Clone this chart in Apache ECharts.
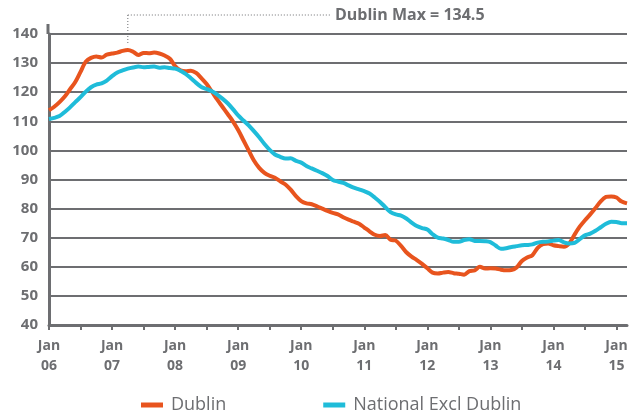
<!DOCTYPE html>
<html><head><meta charset="utf-8">
<script src="https://cdn.jsdelivr.net/npm/echarts@6/dist/echarts.min.js"></script>
<style>html,body{margin:0;padding:0;background:#fff}#c{width:642px;height:417px}</style>
</head><body><div id="c"></div>
<script>
const years = ['06','07','08','09','10','11','12','13','14','15'];
const monthNames = ['Jan','Feb','Mar','Apr','May','Jun','Jul','Aug','Sep','Oct','Nov','Dec'];
const seriesNames = ['Dublin', 'National Excl Dublin'];
const yTicks = [40,50,60,70,80,90,100,110,120,130,140];
const dublin = [
 113.8,115,116.6,118.5,121,123.5,127,130.5,131.8,132.3,131.9,132.9,
 133.3,133.6,134.2,134.5,133.9,132.8,133.5,133.4,133.6,133.3,132.6,131.5,
 129,127.5,127.2,127.4,126.6,124.8,122.8,120.2,117.5,115,112.5,110,
 107,103.5,100,96.5,94,92.3,91.3,90.6,89.4,88.3,86.5,84.3,
 82.6,81.8,81.5,80.8,80,79.2,78.5,78,77,76.2,75.5,74.8,
 73.5,72.2,71,70.6,70.9,69.3,69,67.2,65,63.5,62.3,61,
 59.5,58,57.7,58,58.2,57.8,57.6,57.3,58.5,58.8,60,59.4,
 59.5,59.4,59,58.8,58.9,59.8,62,63.2,64,66.5,67.8,68,
 67.4,67.1,66.9,68,71,73.8,76,78,80.2,82.5,84,84.2,
 83.8,82.4,81.8
];
const national = [
 110.8,111.2,111.8,113.2,114.8,116.6,118.3,120.2,121.7,122.6,123,124,
 125.5,126.8,127.5,128.1,128.5,128.8,128.6,128.7,128.8,128.4,128.6,128.3,
 128.1,127.4,126.3,124.8,123.2,121.8,121.1,120.3,119.2,117.8,116.2,114.2,
 112,110.3,108.6,106.6,104.5,102.2,100.2,98.6,97.8,97.2,97.3,96.4,
 95.8,94.6,93.8,93,92.2,91.2,89.8,89.3,88.8,88,87.2,86.6,
 86,85.2,83.8,82.3,80.5,78.8,78,77.6,76.6,75.2,74,73.3,
 72.8,71.2,70,69.7,69.2,68.6,68.6,69.2,69.5,68.9,68.9,68.8,
 68.5,67.3,66.2,66.4,66.8,67.1,67.4,67.5,67.7,68.3,68.6,68.7,
 69,69.2,68.4,68,68.2,69.5,70.8,71.4,72.4,73.6,74.8,75.5,
 75.4,75,75
];
const maxLabel = 'Dublin Max = 134.5';

const categories = dublin.map((_, i) => monthNames[i % 12] + ' ' + years[Math.floor(i / 12)]);
const grey = '#6d6e71';
const chart = echarts.init(document.getElementById('c'));
chart.setOption({
  animation: false,
  grid: {left: 49, right: 15, top: 34, bottom: 92},
  legend: {
    bottom: -2, left: 136, itemGap: 97, itemWidth: 22, itemHeight: 5, icon: 'rect',
    textStyle: {color: grey, fontSize: 18, fontFamily: 'Open Sans', padding: [0, 0, 0, 3]},
    data: seriesNames
  },
  xAxis: {
    type: 'category', data: categories, boundaryGap: false,
    axisLine: {lineStyle: {color: grey, width: 3}},
    axisTick: {show: true, interval: (i) => i % 6 === 0, length: 5, lineStyle: {color: grey, width: 2}},
    axisLabel: {
      interval: (i) => i % 12 === 0, color: grey, fontWeight: 'bold', fontSize: 14,
      fontFamily: 'Open Sans', lineHeight: 20, margin: 11,
      formatter: (v) => v.replace(' ', '\n')
    },
    splitLine: {show: false}
  },
  yAxis: {
    type: 'value', min: yTicks[0], max: yTicks[yTicks.length - 1], interval: 10,
    axisLine: {show: true, lineStyle: {color: grey, width: 3}},
    axisTick: {show: false},
    axisLabel: {color: grey, fontWeight: 'bold', fontSize: 15, fontFamily: 'Open Sans', margin: 11},
    splitLine: {lineStyle: {color: grey, width: 2}}
  },
  series: [
    {name: seriesNames[0], type: 'line', data: dublin, showSymbol: false, smooth: 0.3,
     lineStyle: {color: '#e8541e', width: 4}, itemStyle: {color: '#e8541e'}},
    {name: seriesNames[1], type: 'line', data: national, showSymbol: false, smooth: 0.3,
     lineStyle: {color: '#1fbcd9', width: 4}, itemStyle: {color: '#1fbcd9'}}
  ]
});

// annotation + axis extension placed through library scale
const maxVal = Math.max(...dublin);
const maxIdx = dublin.indexOf(maxVal);
const p = chart.convertToPixel({gridIndex: 0}, [maxIdx, maxVal]);
const top140 = chart.convertToPixel({gridIndex: 0}, [0, yTicks[yTicks.length - 1]]);
const annY = 15;
chart.setOption({
  graphic: [
    {type: 'line', shape: {x1: top140[0] - 1, y1: top140[1], x2: top140[0] - 1, y2: top140[1] - 10},
     style: {stroke: grey, lineWidth: 3}},
    {type: 'line', shape: {x1: p[0], y1: p[1] - 7, x2: p[0], y2: annY},
     style: {stroke: grey, lineWidth: 1, lineDash: [1, 2]}},
    {type: 'line', shape: {x1: p[0], y1: annY, x2: 331, y2: annY},
     style: {stroke: grey, lineWidth: 1, lineDash: [1, 2]}},
    {type: 'text', x: 335, y: annY, style: {text: maxLabel, fill: grey, font: 'bold 16px "Open Sans"', verticalAlign: 'middle'}}
  ]
});
</script></body></html>
